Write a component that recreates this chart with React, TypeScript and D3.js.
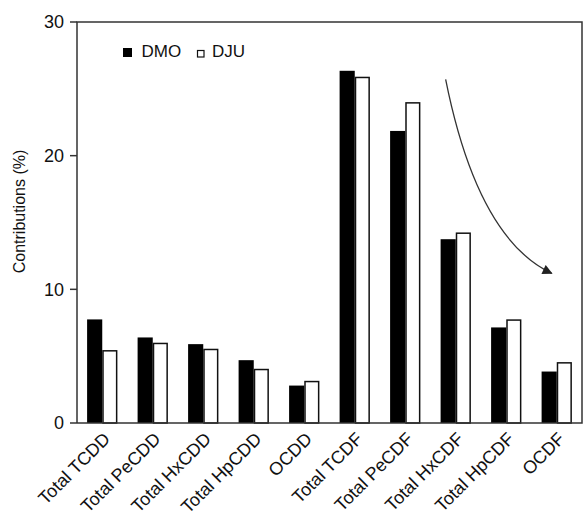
import React from 'react'
import * as d3 from 'd3'

const categories = [
  'Total TCDD', 'Total PeCDD', 'Total HxCDD', 'Total HpCDD', 'OCDD',
  'Total TCDF', 'Total PeCDF', 'Total HxCDF', 'Total HpCDF', 'OCDF'
]
const dmo = [7.75, 6.4, 5.9, 4.7, 2.8, 26.35, 21.85, 13.75, 7.15, 3.85]
const dju = [5.4, 5.95, 5.5, 4.0, 3.1, 25.85, 23.95, 14.2, 7.7, 4.5]
const yTicks = [0, 10, 20, 30]
const seriesNames = ['DMO', 'DJU']
// trend arrow, in (category position, value) units: start, control, end
const arrowPts = [[7.3, 25.7], [7.93, 13.8], [9.4, 11.2]]

const W = 583
const H = 511
const margin = {top: 22, right: 1, bottom: 88, left: 77}
const font = 'Arial, "Liberation Sans", Helvetica, sans-serif'

export default function App() {
  const plotW = W - margin.left - margin.right
  const plotH = H - margin.top - margin.bottom

  const x = d3.scaleBand().domain(categories).range([0, plotW]).paddingInner(0.4).paddingOuter(0.2)
  const inner = d3.scaleBand().domain(seriesNames).range([0, x.bandwidth()])
  const y = d3.scaleLinear().domain([0, 30]).range([plotH, 0])
  const pos = d3.scaleLinear().domain([0, categories.length]).range([0, plotW])

  const ap = d3.path()
  ap.moveTo(pos(arrowPts[0][0]), y(arrowPts[0][1]))
  ap.quadraticCurveTo(pos(arrowPts[1][0]), y(arrowPts[1][1]), pos(arrowPts[2][0]), y(arrowPts[2][1]))

  return (
    <svg width={W} height={H} style={{position: 'absolute', left: 0, top: 0}} fontFamily={font}>
      <defs>
        <marker id="head" viewBox="0 0 10 10" refX="9" refY="5" markerWidth="12" markerHeight="10" orient="auto" markerUnits="userSpaceOnUse">
          <path d="M0,0 L10,5 L0,10 z" fill="#222" />
        </marker>
      </defs>
      <g transform={`translate(${margin.left},${margin.top})`}>
        {categories.map((c, i) => (
          <g key={c} transform={`translate(${x(c)},0)`}>
            <rect x={inner('DMO')} y={y(dmo[i])} width={inner.bandwidth()} height={plotH - y(dmo[i])} fill="#000" />
            <rect x={inner('DJU')! + 0.75} y={y(dju[i])} width={inner.bandwidth() - 1.5} height={plotH - y(dju[i])} fill="#fff" stroke="#111" strokeWidth={1.5} />
          </g>
        ))}
        {/* frame */}
        <path d={`M0,${plotH} V0 H${plotW} V${plotH} H0`} fill="none" stroke="#333" strokeWidth={1.5} />
        {yTicks.map(t => (
          <g key={t} transform={`translate(0,${y(t)})`}>
            <line x1={-7} x2={0} stroke="#333" strokeWidth={1.5} />
            <text x={-13} dy="0.35em" textAnchor="end" fontSize={18} fill="#111">{t}</text>
          </g>
        ))}
        {categories.map(c => (
          <text key={c} transform={`translate(${x(c)! + x.bandwidth() / 2 + 9},${plotH + 17}) rotate(-45)`}
            textAnchor="end" fontSize={18} fill="#111">{c}</text>
        ))}
        <text transform={`translate(-52,${y(15) - 11}) rotate(-90)`} textAnchor="middle" fontSize={16} fill="#111">Contributions (%)</text>
        {/* legend */}
        <g transform="translate(46,35)">
          <rect x={0} y={-9} width={9} height={9} fill="#000" />
          <text x={18.5} y={0} fontSize={17} fill="#111">DMO</text>
          <rect x={74.5} y={-6.5} width={6.5} height={6.5} fill="#fff" stroke="#111" strokeWidth={1.2} />
          <text x={89} y={0} fontSize={17} fill="#111">DJU</text>
        </g>
        <path d={ap.toString()} fill="none" stroke="#333" strokeWidth={1.3} markerEnd="url(#head)" />
      </g>
    </svg>
  )
}
